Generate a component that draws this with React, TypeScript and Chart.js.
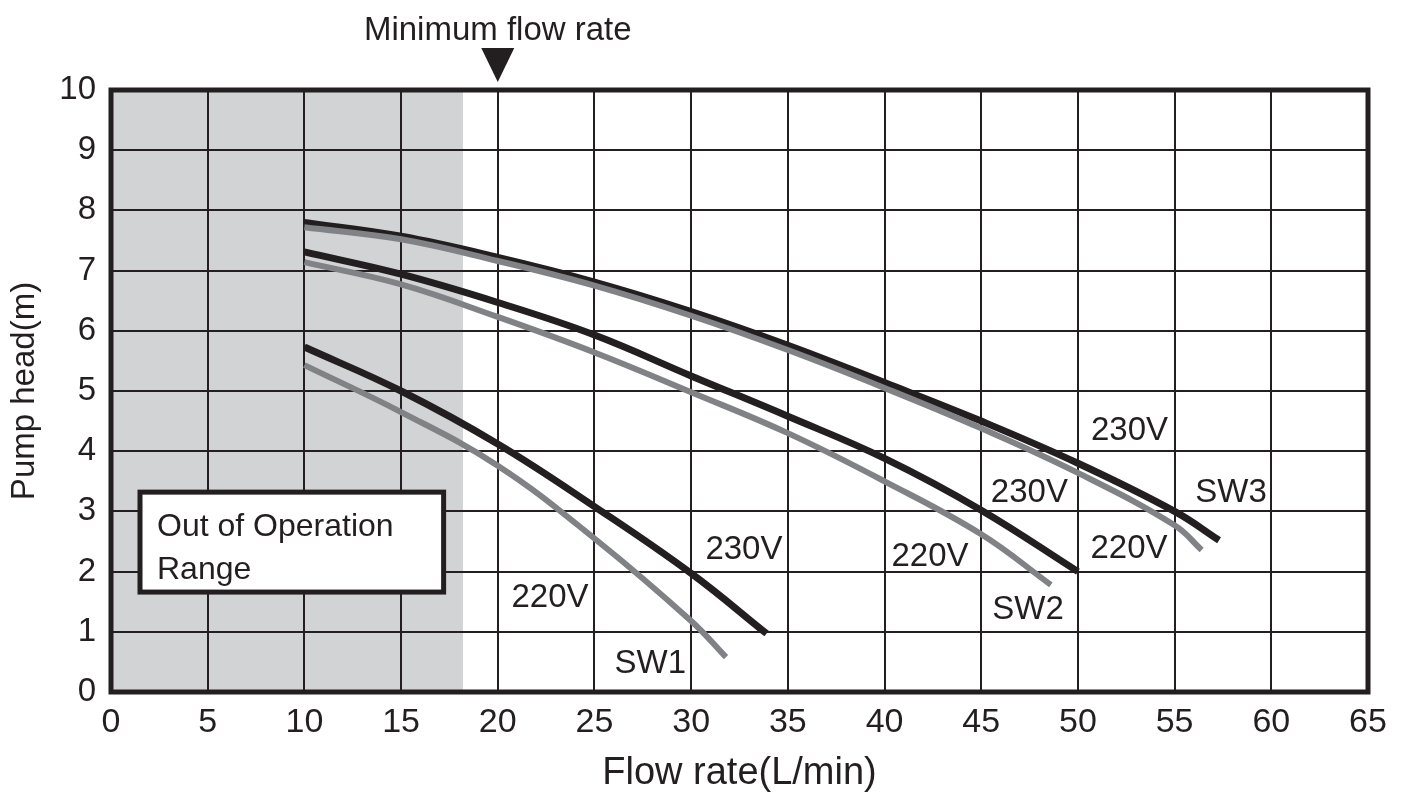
import { useEffect, useRef } from "react";
import { Chart, registerables } from "chart.js";

Chart.register(...registerables);

// ---- axis ticks ----
const X_MIN = 0;
const X_MAX = 65;
const X_STEP = 5;
const Y_MIN = 0;
const Y_MAX = 10;
const Y_STEP = 1;

// ---- reference values ----
const MIN_FLOW_RATE = 20;
const OUT_OF_RANGE_END = 18.2;

// ---- series (flow L/min, head m) ----
const SW1_230V_FLOW = [10, 15, 20, 25, 30, 33.9];
const SW1_230V_HEAD = [5.73, 5.0, 4.12, 3.08, 1.97, 0.97];
const SW1_220V_FLOW = [10, 15, 20, 25, 30, 31.8];
const SW1_220V_HEAD = [5.43, 4.65, 3.76, 2.55, 1.18, 0.58];

const SW2_230V_FLOW = [10, 15, 20, 25, 30, 35, 40, 45, 50];
const SW2_230V_HEAD = [7.31, 6.94, 6.47, 5.93, 5.25, 4.58, 3.88, 3.02, 2.0];
const SW2_220V_FLOW = [10, 15, 20, 25, 30, 35, 40, 45, 48.6];
const SW2_220V_HEAD = [7.14, 6.77, 6.23, 5.64, 4.98, 4.3, 3.5, 2.62, 1.78];

const SW3_230V_FLOW = [10, 15, 20, 25, 30, 35, 40, 45, 50, 55, 57.3];
const SW3_230V_HEAD = [7.8, 7.57, 7.22, 6.81, 6.32, 5.76, 5.14, 4.5, 3.8, 3.0, 2.52];
const SW3_220V_FLOW = [10, 15, 20, 25, 30, 35, 40, 45, 50, 55, 56.4];
const SW3_220V_HEAD = [7.72, 7.52, 7.16, 6.75, 6.25, 5.68, 5.05, 4.38, 3.64, 2.77, 2.36];

// ---- in-chart labels (data coordinates) ----
const LABEL_TEXT = ["230V", "SW3", "220V", "230V", "220V", "SW2", "230V", "220V", "SW1"];
const LABEL_FLOW = [52.67, 57.92, 52.64, 47.49, 42.35, 47.42, 32.73, 22.7, 27.89];
const LABEL_HEAD = [4.39, 3.36, 2.43, 3.36, 2.29, 1.41, 2.4, 1.6, 0.52];

const INK = "#231f20";
const GREY_LINE = "#808285";
const GREY_ZONE = "#d1d3d4";
const FONT = "'Liberation Sans', Arial, Helvetica, sans-serif";

const pts = (xs: number[], ys: number[]) => xs.map((x, i) => ({ x, y: ys[i] }));

const overlayPlugin = {
  id: "overlay",
  beforeDraw(chart: any) {
    const { ctx, chartArea, scales } = chart;
    const xs = scales.x;
    ctx.save();
    ctx.fillStyle = GREY_ZONE;
    const x0 = xs.getPixelForValue(X_MIN);
    const x1 = xs.getPixelForValue(OUT_OF_RANGE_END);
    ctx.fillRect(x0, chartArea.top, x1 - x0, chartArea.bottom - chartArea.top);
    ctx.restore();
  },
  afterDatasetsDraw(chart: any) {
    const { ctx, chartArea, scales } = chart;
    const xs = scales.x;
    const ys = scales.y;
    ctx.save();
    // frame
    ctx.lineWidth = 5;
    ctx.strokeStyle = INK;
    ctx.strokeRect(
      chartArea.left,
      chartArea.top,
      chartArea.right - chartArea.left,
      chartArea.bottom - chartArea.top
    );

    // out of operation box
    const bx0 = xs.getPixelForValue(1.5);
    const bx1 = xs.getPixelForValue(17.2);
    const by0 = ys.getPixelForValue(3.32);
    const by1 = ys.getPixelForValue(1.66);
    ctx.fillStyle = "#ffffff";
    ctx.fillRect(bx0, by0, bx1 - bx0, by1 - by0);
    ctx.lineWidth = 5;
    ctx.strokeRect(bx0, by0, bx1 - bx0, by1 - by0);
    ctx.fillStyle = INK;
    ctx.font = `32px ${FONT}`;
    ctx.textAlign = "left";
    ctx.textBaseline = "alphabetic";
    ctx.fillText("Out of Operation", bx0 + 17, by0 + 44);
    ctx.fillText("Range", bx0 + 17, by0 + 87);

    // curve labels
    ctx.font = `33px ${FONT}`;
    ctx.textAlign = "center";
    LABEL_TEXT.forEach((t, i) => {
      const px = xs.getPixelForValue(LABEL_FLOW[i]);
      const py = ys.getPixelForValue(LABEL_HEAD[i]);
      ctx.fillText(t, px, py + 0.358 * 33);
    });

    // minimum flow rate marker
    const mx = xs.getPixelForValue(MIN_FLOW_RATE);
    const top = chartArea.top;
    ctx.beginPath();
    ctx.moveTo(mx - 16.5, top - 42);
    ctx.lineTo(mx + 16.5, top - 42);
    ctx.lineTo(mx, top - 8);
    ctx.closePath();
    ctx.fill();
    ctx.font = `33px ${FONT}`;
    ctx.textAlign = "center";
    ctx.fillText("Minimum flow rate", mx, top - 50);
    ctx.restore();
  },
};

export default function App() {
  const ref = useRef<HTMLCanvasElement | null>(null);

  useEffect(() => {
    document.body.style.margin = "0";
    document.body.style.overflow = "hidden";
    const canvas = ref.current;
    if (!canvas) return;
    const line = (data: any, color: string, width: number, order: number) => ({
      data,
      borderColor: color,
      backgroundColor: color,
      borderWidth: width,
      pointRadius: 0,
      fill: false,
      tension: 0.4,
      borderCapStyle: "butt" as const,
      order,
    });
    const chart = new Chart(canvas, {
      type: "line",
      data: {
        datasets: [
          line(pts(SW1_220V_FLOW, SW1_220V_HEAD), GREY_LINE, 6, 0),
          line(pts(SW2_220V_FLOW, SW2_220V_HEAD), GREY_LINE, 6, 0),
          line(pts(SW3_220V_FLOW, SW3_220V_HEAD), GREY_LINE, 6, 0),
          line(pts(SW1_230V_FLOW, SW1_230V_HEAD), INK, 7, 1),
          line(pts(SW2_230V_FLOW, SW2_230V_HEAD), INK, 7, 1),
          line(pts(SW3_230V_FLOW, SW3_230V_HEAD), INK, 7, 1),
        ],
      },
      options: {
        responsive: false,
        animation: false,
        devicePixelRatio: 1,
        layout: { padding: { top: 90, right: 37, left: 0, bottom: 0 } },
        plugins: {
          legend: { display: false },
          tooltip: { enabled: false },
        },
        scales: {
          x: {
            type: "linear",
            min: X_MIN,
            max: X_MAX,
            ticks: {
              stepSize: X_STEP,
              color: INK,
              padding: 10,
              font: { family: FONT, size: 34 },
            },
            grid: { color: INK, lineWidth: 2, drawTicks: false },
            border: { display: false },
            title: {
              display: true,
              text: "Flow rate(L/min)",
              color: INK,
              font: { family: FONT, size: 38 },
              padding: { top: 0, bottom: 0 },
            },
            afterFit: (s: any) => {
              s.height = 104;
            },
          },
          y: {
            type: "linear",
            min: Y_MIN,
            max: Y_MAX,
            ticks: {
              stepSize: Y_STEP,
              color: INK,
              padding: 15,
              font: { family: FONT, size: 33 },
            },
            grid: { color: INK, lineWidth: 2, drawTicks: false },
            border: { display: false },
            title: {
              display: true,
              text: "Pump head(m)",
              color: INK,
              font: { family: FONT, size: 33 },
              padding: { top: 5, bottom: 0 },
            },
            afterFit: (s: any) => {
              s.width = 111;
            },
          },
        },
      },
      plugins: [overlayPlugin],
    });
    return () => chart.destroy();
  }, []);

  return (
    <div style={{ width: 1405, height: 796 }}>
      <canvas ref={ref} width={1405} height={796} style={{ display: "block" }} />
    </div>
  );
}
